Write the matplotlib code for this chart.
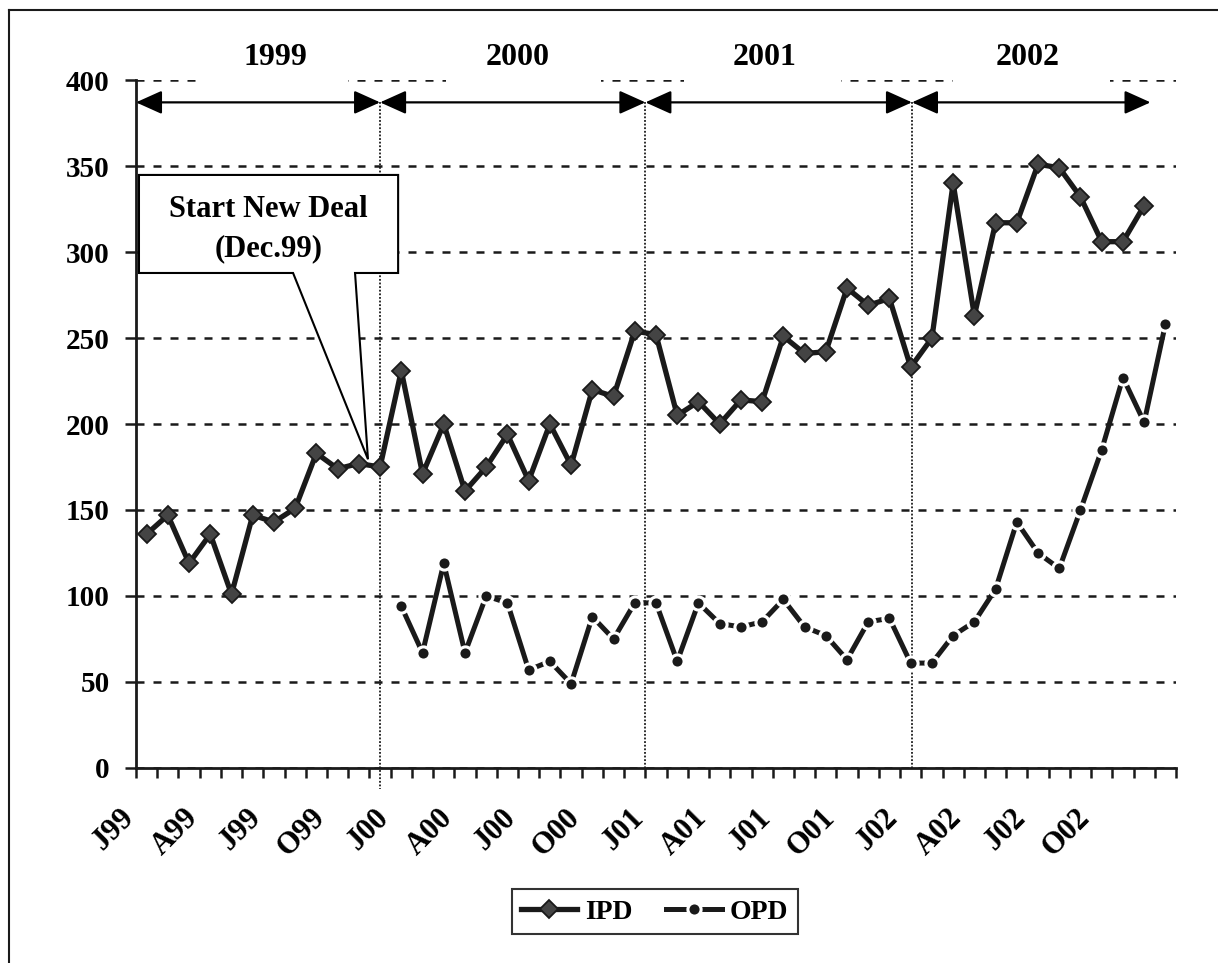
import numpy as np
import matplotlib
matplotlib.use('Agg')
import matplotlib.pyplot as plt
from matplotlib.patches import Polygon, Rectangle
from matplotlib.lines import Line2D
from matplotlib.transforms import ScaledTranslation

plt.rcParams['font.family'] = ['Liberation Serif', 'DejaVu Serif']
plt.rcParams['font.weight'] = 'bold'

# monthly values, Jan 1999 .. Jan 2003 (49 months)
ipd = [136, 147, 119, 136, 101, 147, 143, 151, 183, 174, 177, 175,
       231, 171, 200, 161, 175, 194, 167, 200, 176, 220, 216, 254,
       252, 205, 213, 200, 214, 213, 251, 241, 242, 279, 269, 273,
       233, 250, 340, 263, 317, 317, 351, 349, 332, 306, 306, 327,
       np.nan]
opd = [np.nan] * 12 + [
       94, 67, 119, 67, 100, 96, 57, 62, 49, 88, 75, 96,
       96, 62, 96, 84, 82, 85, 98, 82, 77, 63, 85, 87,
       61, 61, 77, 85, 104, 143, 125, 116, 150, 185, 227, 201,
       258]
tick_labels = ['J99', 'A99', 'J99', 'O99', 'J00', 'A00', 'J00', 'O00',
               'J01', 'A01', 'J01', 'O01', 'J02', 'A02', 'J02', 'O02']
years = ['1999', '2000', '2001', '2002']
year_centers = [6.56, 18.0, 29.6, 42.0]
year_gaps = [(2.9, 10.0), (14.6, 21.9), (25.8, 33.2), (38.5, 45.9)]
year_bounds = [0, 11.5, 24.0, 36.56, 47.8]

n = len(ipd)
x = np.arange(n) + 0.5
dark = '#1a1a1a'

fig = plt.figure(figsize=(12.18, 9.63), dpi=100)
ax = fig.add_axes([136 / 1218, 1 - 768 / 963, 1040 / 1218, 688 / 963])

ax.plot(x, opd, color=dark, lw=3.6, marker='o', markersize=9.5,
        markerfacecolor=dark, markeredgecolor='white', markeredgewidth=2.2,
        label='OPD', zorder=3)
ax.plot(x, ipd, color=dark, lw=3.8, marker='D', markersize=9.5,
        markerfacecolor='#444444', markeredgecolor=dark, markeredgewidth=1.3,
        label='IPD', zorder=4)

ax.set_xlim(0, n)
ax.set_ylim(0, 400)
ax.set_yticks(np.arange(0, 401, 50))
ax.set_xticks(np.arange(0, n + 1))
ax.set_xticklabels([])

# rotated month labels, every third month
lbl_tr = ax.get_xaxis_transform() + ScaledTranslation(-0.27, -0.35,
                                                      fig.dpi_scale_trans)
for pos, lbl in zip(x[::3], tick_labels):
    ax.text(pos, 0, lbl, transform=lbl_tr, rotation=45, ha='right', va='top',
            rotation_mode='anchor', fontsize=22, fontweight='bold',
            clip_on=False)

ax.tick_params(axis='x', which='major', length=7, width=1.8, direction='out',
               color=dark)
ax.tick_params(axis='y', length=8, width=1.8, pad=11, labelsize=21,
               color=dark)

for s in ['top', 'right']:
    ax.spines[s].set_visible(False)
for s in ['left', 'bottom']:
    ax.spines[s].set_linewidth(2)
    ax.spines[s].set_color(dark)

ax.set_axisbelow(True)
ax.yaxis.grid(True, color=dark, lw=1.8, linestyle=(0, (3.2, 3.6)))

# white gaps in the 400 line behind the year labels
for (a, b), yr, xc in zip(year_gaps, years, year_centers):
    ax.add_patch(Rectangle((a, 394), b - a, 12, facecolor='white',
                           edgecolor='none', clip_on=False, zorder=1))
    ax.text(xc, 413, yr, ha='center', va='center', fontsize=23,
            fontweight='bold', clip_on=False)

# year arrows and vertical dotted separators
for i in range(4):
    ax.annotate('', xy=(year_bounds[i + 1], 387), xytext=(year_bounds[i], 387),
                arrowprops=dict(arrowstyle='<|-|>,head_length=0.8,head_width=0.36',
                                mutation_scale=20, lw=1.6, color='black',
                                shrinkA=0, shrinkB=0),
                annotation_clip=False)
for i, xb in enumerate(year_bounds[1:4]):
    ax.plot([xb, xb], [387, -12 if i == 0 else 0], color=dark, lw=1.3,
            linestyle=(0, (1, 1)), clip_on=False, zorder=2)

# callout
callout = [(0.14, 344.8), (12.35, 344.8), (12.35, 287.8), (10.32, 287.8),
           (10.93, 179.5), (7.40, 287.8), (0.14, 287.8)]
ax.add_patch(Polygon(callout, closed=True, facecolor='white', edgecolor='black',
                     lw=1.5, zorder=5))
ax.text(6.23, 325, 'Start New Deal', ha='center', va='center', fontsize=22,
        fontweight='bold', zorder=6)
ax.text(6.23, 302, '(Dec.99)', ha='center', va='center', fontsize=22,
        fontweight='bold', zorder=6)

handles, labels = ax.get_legend_handles_labels()
leg = ax.legend(handles[::-1], labels[::-1], loc='center',
                bbox_to_anchor=(0.499, -0.209), ncol=2, fontsize=20,
                frameon=True, fancybox=False, handlelength=2.0,
                handletextpad=0.3, columnspacing=1.2, borderpad=0.35)
leg.get_frame().set_edgecolor('black')
leg.get_frame().set_linewidth(1.5)

# border of the scanned figure (left and top only)
fig.add_artist(Line2D([9 / 1218, 9 / 1218], [0, 1 - 10 / 963],
                      transform=fig.transFigure, color=dark, lw=1.5))
fig.add_artist(Line2D([9 / 1218, 1], [1 - 10 / 963, 1 - 10 / 963],
                      transform=fig.transFigure, color=dark, lw=1.5))

fig.savefig('out.png', dpi=100)
